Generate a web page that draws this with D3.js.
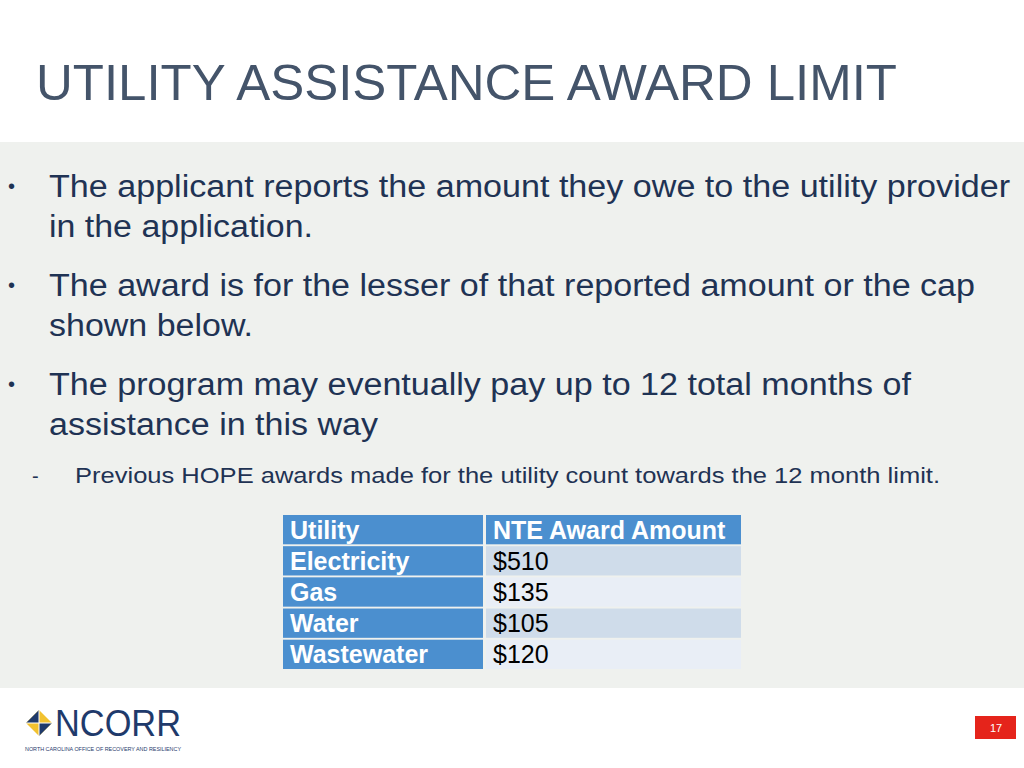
<!DOCTYPE html>
<html><head><meta charset="utf-8">
<script src="https://cdn.jsdelivr.net/npm/d3@7"></script>
<style>body{margin:0;background:#fff}svg{display:block;font-family:"Liberation Sans",Arial,sans-serif}</style>
</head><body><div id="chart"></div>
<script>
// slide data
const title = "UTILITY ASSISTANCE AWARD LIMIT";
const bullets = [
    ["The applicant reports the amount they owe to the utility provider", "in the application."],
    ["The award is for the lesser of that reported amount or the cap", "shown below."],
    ["The program may eventually pay up to 12 total months of", "assistance in this way"]
];
const bulletWidths = [[961, 264], [926, 204], [862, 329]];
const subBullet = "Previous HOPE awards made for the utility count towards the 12 month limit.";
const headers = ["Utility", "NTE Award Amount"];
const utilities = ["Electricity", "Gas", "Water", "Wastewater"];
const amounts = ["$510", "$135", "$105", "$120"];
const pageNumber = "17";

const W = 1024, H = 768;
const svg = d3.select("#chart").append("svg").attr("width", W).attr("height", H);

// grey content panel
svg.append("rect").attr("x", 0).attr("y", 142).attr("width", W).attr("height", 546).attr("fill", "#eff1ee");

svg.append("text").attr("x", 36).attr("y", 100).attr("font-size", 50).attr("fill", "#44546a")
    .attr("textLength", 861).attr("lengthAdjust", "spacingAndGlyphs").text(title);

// bullets
let y = 197;
bullets.forEach((lines, b) => {
    svg.append("text").attr("x", 8).attr("y", y - 4).attr("font-size", 20).attr("fill", "#1f3354").text("•");
    lines.forEach((l, i) => {
        svg.append("text").attr("x", 49).attr("y", y + i * 40).attr("font-size", 31).attr("fill", "#1f3354")
            .attr("textLength", bulletWidths[b][i]).attr("lengthAdjust", "spacingAndGlyphs").text(l);
    });
    y += 99;
});
svg.append("text").attr("x", 32).attr("y", 483).attr("font-size", 20).attr("fill", "#1f3354").text("-");
svg.append("text").attr("x", 75).attr("y", 483).attr("font-size", 22).attr("fill", "#1f3354")
    .attr("textLength", 865).attr("lengthAdjust", "spacingAndGlyphs").text(subBullet);

// table
const rows = [headers].concat(utilities.map((u, i) => [u, amounts[i]]));
const ys = d3.scaleBand().domain(d3.range(rows.length)).range([515, 669]).paddingInner(0.06);
const xs = d3.scaleOrdinal().domain([0, 1]).range([283, 486]);
const ws = [200, 255];
const tbl = svg.append("g");
rows.forEach((r, i) => {
    r.forEach((c, j) => {
        const bold = i === 0 || j === 0;
        const fill = bold ? "#4b8fcf" : (i % 2 === 1 ? "#cfdcea" : "#e9eef6");
        tbl.append("rect").attr("x", xs(j)).attr("y", ys(i)).attr("width", ws[j]).attr("height", ys.bandwidth()).attr("fill", fill);
        tbl.append("text").attr("x", xs(j) + 7).attr("y", ys(i) + ys.bandwidth() / 2 + 9)
            .attr("font-size", 25).attr("font-weight", bold ? "bold" : "normal")
            .attr("fill", bold ? "#fff" : "#000").text(c);
    });
});

// logo
const logo = svg.append("g").attr("transform", "translate(39,723)");
logo.append("path").attr("d", "M0,-13 L13,0 L0,13 L-13,0 Z").attr("fill", "#f2c230");
logo.append("path").attr("d", "M0,-13 L0,0 L-13,0 Z").attr("fill", "#1f3a6b");
logo.append("path").attr("d", "M0,13 L0,0 L13,0 Z").attr("fill", "#1f3a6b");
logo.append("path").attr("d", "M-13,0 L13,0 M0,-13 L0,13").attr("stroke", "#fff").attr("stroke-width", 1);
svg.append("text").attr("x", 55).attr("y", 736).attr("font-size", 36).attr("fill", "#1f3a6b")
    .attr("textLength", 126).attr("lengthAdjust", "spacingAndGlyphs").text("NCORR");
svg.append("text").attr("x", 25).attr("y", 751).attr("font-size", 6).attr("fill", "#1f3a6b")
    .attr("textLength", 156).attr("lengthAdjust", "spacingAndGlyphs")
    .text("NORTH CAROLINA OFFICE OF RECOVERY AND RESILIENCY");

// page number
svg.append("rect").attr("x", 975).attr("y", 716).attr("width", 41).attr("height", 23).attr("fill", "#e5241b");
svg.append("text").attr("x", 996).attr("y", 732).attr("text-anchor", "middle").attr("font-size", 11).attr("fill", "#fff").text(pageNumber);
</script></body></html>
